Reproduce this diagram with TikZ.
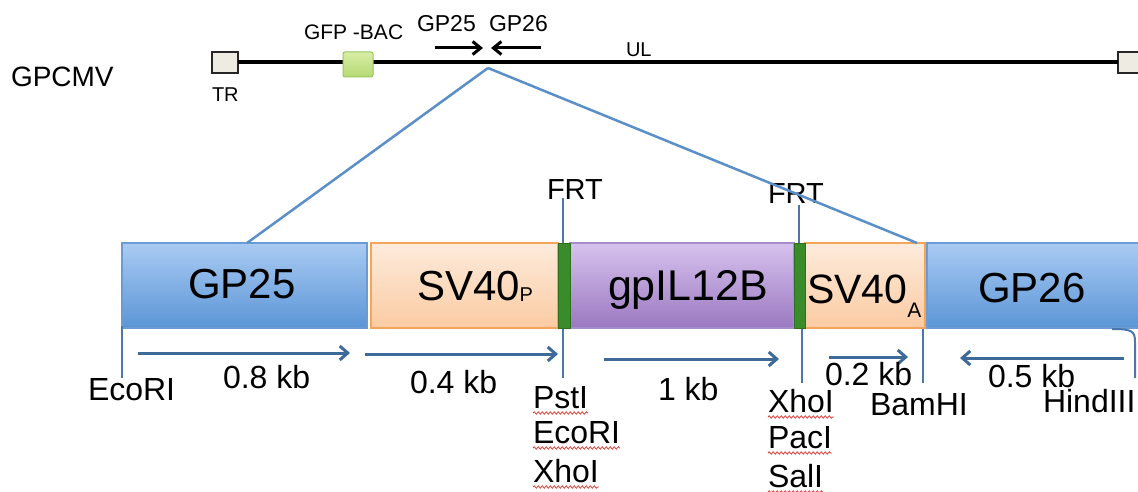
\documentclass[tikz,border=0pt]{standalone}
\usepackage{fontspec}
\setmainfont{Liberation Sans}
\usetikzlibrary{arrows.meta,decorations.pathmorphing,calc}
\newcommand\fsz[1]{\fontsize{#1}{#1}\selectfont}
\definecolor{connblue}{HTML}{5B8FC7}
\definecolor{arrblue}{HTML}{3E6A9A}
\definecolor{siteblue}{HTML}{4A78AA}
\definecolor{gpTop}{HTML}{A9CBF3}
\definecolor{gpBot}{HTML}{5B95D6}
\definecolor{gpLine}{HTML}{6A9BD5}
\definecolor{svTop}{HTML}{FDEBDC}
\definecolor{svBot}{HTML}{FBCBA2}
\definecolor{svLine}{HTML}{F4A55A}
\definecolor{ilTop}{HTML}{D6C2EE}
\definecolor{ilBot}{HTML}{9B78C0}
\definecolor{ilLine}{HTML}{A68DC9}
\definecolor{frtgreen}{HTML}{3A8C2A}
\definecolor{gfpTop}{HTML}{D8EDA6}
\definecolor{gfpBot}{HTML}{B5DA73}
\definecolor{gfpLine}{HTML}{9CC45C}
\definecolor{endfill}{HTML}{EEEBE3}
\definecolor{squigred}{HTML}{D9443A}
\begin{document}
\begin{tikzpicture}[x=1pt,y=-1pt,
  lbl/.style={inner sep=0,outer sep=0,anchor=base west},
  boxlbl/.style={lbl,font=\fsz{42}},
  sitelbl/.style={lbl,font=\fsz{32}},
  toplbl/.style={lbl,font=\fsz{21}},
  frtlbl/.style={lbl,font=\fsz{29}},
  seg/.style={inner sep=0,outer sep=0,anchor=north west,minimum height=85,line width=1.2},
  gpbox/.style={seg,top color=gpTop,bottom color=gpBot,draw=gpLine},
  svbox/.style={seg,top color=svTop,bottom color=svBot,draw=svLine},
  ilbox/.style={seg,top color=ilTop,bottom color=ilBot,draw=ilLine},
  frtbar/.style={seg,fill=frtgreen,draw=frtgreen!80!black,line width=0.6},
  endbox/.style={inner sep=0,outer sep=0,anchor=north west,minimum height=21,fill=endfill,draw=black!85,line width=1.5},
  genome/.style={line width=4,black},
  conn/.style={line width=2.5,connblue},
  site/.style={line width=2.5,siteblue},
  kbarrow/.style={line width=3,arrblue,-{Straight Barb[length=8pt,width=14pt]}},
  primer/.style={line width=3,black,-{Straight Barb[length=8pt,width=13pt]}},
  squig/.style={draw=squigred,line width=0.8,decorate,decoration={snake,amplitude=1.2pt,segment length=4pt}}]
\useasboundingbox (0,0) rectangle (1138,492);
\fill[white] (0,0) rectangle (1138,492);

% ---------- genome line ----------
\node[endbox,minimum width=26] (tr) at (212,52) {};
\node[endbox,minimum width=26] (ur) at (1118,52) {};
\draw[genome] (tr.east) -- (ur.west);
\node[inner sep=0,outer sep=0,anchor=north west,minimum width=30,minimum height=25,rounded corners=2,
      top color=gfpTop,bottom color=gfpBot,draw=gfpLine,line width=1] (gfp) at (343,52) {};

\node[lbl,font=\fsz{28}] (gpcmv) at (11,87) {GPCMV};
\node[lbl,font=\fsz{20}] (trl) at (212,102) {TR};
\node[toplbl] (gfpl) at (304,40) {GFP -BAC};
\node[lbl,font=\fsz{23}] (p25) at (417,32) {GP25};
\node[lbl,font=\fsz{23}] (p26) at (489,32) {GP26};
\node[lbl,font=\fsz{20}] (ul) at (626,57) {UL};

\coordinate (p25s) at (435,48);
\coordinate (p25e) at (483,48);
\coordinate (p26s) at (541,48);
\coordinate (p26e) at (491,48);
\draw[primer] (p25s) -- (p25e);
\draw[primer] (p26s) -- (p26e);

% ---------- site lines behind the boxes ----------
\coordinate (frt1top) at (563,198);
\coordinate (frt1bot) at (563,378);
\draw[site] (frt1top) -- (frt1bot);
\coordinate (frt2top) at (799,205);
\coordinate (frt2bot) at (799,245);
\draw[site] (frt2top) -- (frt2bot);

% ---------- cassette ----------
\node[gpbox,minimum width=245] (gp25) at (122,243) {};
\node[svbox,minimum width=187] (sv40p) at (371,243) {};
\node[ilbox,minimum width=224] (il12) at (570,243) {};
\node[svbox,minimum width=120] (sv40a) at (805,243) {};
\node[gpbox,minimum width=220] (gp26) at (927,243) {};
\node[frtbar,minimum width=12] (bar1) at (558,243) {};
\node[frtbar,minimum width=11] (bar2) at (794,243) {};

\node[boxlbl] (l25) at (188,298) {GP25};
\node[boxlbl] (lsvp) at (417,300) {SV40{\fsz{20}\raisebox{-1pt}{P}}};
\node[lbl,font=\fsz{43}] (lil) at (608,300) {gpIL12B};
\node[lbl,font=\fsz{41}] (lsva) at (807,303) {SV40{\fsz{21}\raisebox{-14pt}{A}}};
\node[boxlbl] (l26) at (978,302) {GP26};

\node[frtlbl] (frt1) at (547,200) {FRT};
\node[frtlbl] (frt2) at (768,203) {FRT};

% ---------- zoom connectors ----------
\coordinate (apex) at (488,68);
\coordinate (c25) at (247,243);
\coordinate (c26) at (917,243);
\draw[conn] (apex) -- (c25);
\draw[conn] (apex) -- (c26);

% ---------- restriction site lines ----------
\coordinate (e1a) at (122,326);
\coordinate (e1b) at (122,378);
\draw[site] (e1a) -- (e1b);
\coordinate (x2a) at (802,329);
\coordinate (x2b) at (802,383);
\draw[site] (x2a) -- (x2b);
\coordinate (bha) at (923,329);
\coordinate (bhb) at (923,383);
\draw[site] (bha) -- (bhb);
\coordinate (h3a) at (1112,329);
\coordinate (h3b) at (1135,378);
\draw[site,line width=2] (h3a) .. controls (1132,329) and (1135,331) .. (1135,342) -- (h3b);

% ---------- length arrows ----------
\coordinate (a1s) at (138,353); \coordinate (a1e) at (350,353);
\coordinate (a2s) at (365,354); \coordinate (a2e) at (558,354);
\coordinate (a3s) at (604,359); \coordinate (a3e) at (779,359);
\coordinate (a4s) at (829,357); \coordinate (a4e) at (908,357);
\coordinate (a5s) at (1124,358); \coordinate (a5e) at (960,358);
\draw[kbarrow] (a1s) -- (a1e);
\draw[kbarrow] (a2s) -- (a2e);
\draw[kbarrow] (a3s) -- (a3e);
\draw[kbarrow] (a4s) -- (a4e);
\draw[kbarrow] (a5s) -- (a5e);

\node[sitelbl] (k08) at (223,388) {0.8 kb};
\node[sitelbl] (k04) at (410,393) {0.4 kb};
\node[sitelbl] (k1) at (658,400) {1 kb};
\node[sitelbl] (k02) at (825,385) {0.2 kb};
\node[sitelbl] (k05) at (988,387) {0.5 kb};

\node[sitelbl] (eco1) at (88,400) {EcoRI};
\node[sitelbl] (pst) at (533,408) {PstI};
\node[sitelbl] (eco2) at (533,443) {EcoRI};
\node[sitelbl] (xho1) at (533,482) {XhoI};
\node[sitelbl] (xho2) at (768,412) {XhoI};
\node[sitelbl] (pac) at (768,448) {PacI};
\node[sitelbl] (sal) at (768,487) {SalI};
\node[sitelbl] (bam) at (870,415) {BamHI};
\node[sitelbl] (hind) at (1043,412) {HindIII};

% ---------- spell-check squiggles ----------
\foreach \n in {pst,eco2,xho1,xho2,pac,sal}{
  \draw[squig] ($(\n.base west)+(0,5)$) -- ($(\n.base east)+(0,5)$);
}
\end{tikzpicture}
\end{document}
